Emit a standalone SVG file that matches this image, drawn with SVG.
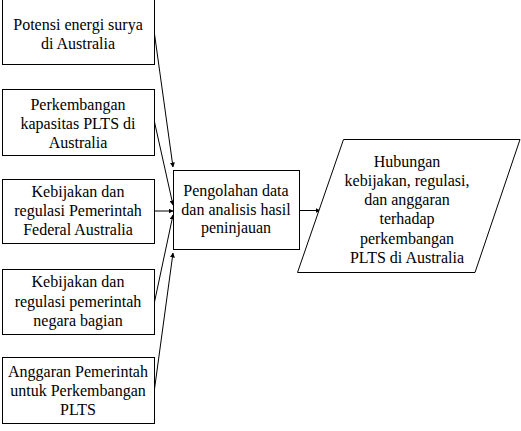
<svg xmlns="http://www.w3.org/2000/svg" width="521" height="431" viewBox="0 0 521 431">
<defs>
<style>
.box{fill:#fff;stroke:#000;stroke-width:1}
.t{font-family:"Liberation Serif","Times New Roman",serif;font-size:16px;fill:#000;text-anchor:middle}
.c{stroke:#000;stroke-width:1;fill:none;marker-end:url(#ah)}
</style>
<marker id="ah" viewBox="0 0 10 10" refX="9" refY="5" markerWidth="5" markerHeight="5" orient="auto" markerUnits="userSpaceOnUse">
<path d="M0,0 L10,5 L0,10 z" fill="#000"/>
</marker>
</defs>
<rect width="521" height="431" fill="#fff"/>
<g id="connectors">
<line class="c" x1="154.5" y1="34" x2="173" y2="167"/>
<line class="c" x1="154.5" y1="122" x2="173" y2="205"/>
<line class="c" x1="154.5" y1="211" x2="173" y2="211"/>
<line class="c" x1="154.5" y1="302" x2="173" y2="215"/>
<line class="c" x1="154.5" y1="389" x2="173" y2="253"/>
<line class="c" x1="299.5" y1="210.5" x2="320" y2="210.5"/>
</g>
<g id="n1">
<rect class="box" x="2.5" y="-1.5" width="152" height="66"/>
<text class="t" x="78" y="30">Potensi energi surya</text>
<text class="t" x="78" y="49">di Australia</text>
</g>
<g id="n2">
<rect class="box" x="2.5" y="89.5" width="152" height="66"/>
<text class="t" x="78" y="110">Perkembangan</text>
<text class="t" x="78" y="129">kapasitas PLTS di</text>
<text class="t" x="78" y="148">Australia</text>
</g>
<g id="n3">
<rect class="box" x="2.5" y="179.5" width="152" height="64"/>
<text class="t" x="78" y="197">Kebijakan dan</text>
<text class="t" x="78" y="216">regulasi Pemerintah</text>
<text class="t" x="78" y="235">Federal Australia</text>
</g>
<g id="n4">
<rect class="box" x="2.5" y="269.5" width="152" height="65"/>
<text class="t" x="78" y="287">Kebijakan dan</text>
<text class="t" x="78" y="307">regulasi pemerintah</text>
<text class="t" x="78" y="326">negara bagian</text>
</g>
<g id="n5">
<rect class="box" x="2.5" y="357.5" width="152" height="66"/>
<text class="t" x="78" y="377">Anggaran Pemerintah</text>
<text class="t" x="78" y="396">untuk Perkembangan</text>
<text class="t" x="78" y="415">PLTS</text>
</g>
<g id="center">
<rect class="box" x="173.5" y="170.5" width="126" height="79"/>
<text class="t" x="236" y="196">Pengolahan data</text>
<text class="t" x="236" y="215">dan analisis hasil</text>
<text class="t" x="236" y="233">peninjauan</text>
</g>
<g id="result">
<polygon class="box" points="343.5,139.5 520,139.5 475,272.5 297.5,272.5"/>
<text class="t" x="407" y="167">Hubungan</text>
<text class="t" x="407" y="186">kebijakan, regulasi,</text>
<text class="t" x="407" y="205">dan anggaran</text>
<text class="t" x="407" y="224">terhadap</text>
<text class="t" x="407" y="244">perkembangan</text>
<text class="t" x="407" y="263">PLTS di Australia</text>
</g>
</svg>
